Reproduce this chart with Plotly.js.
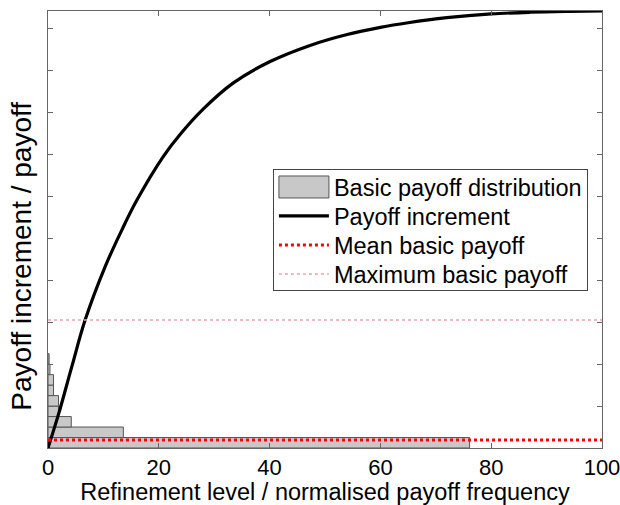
<!DOCTYPE html>
<html>
<head>
<meta charset="utf-8">
<script src="https://cdn.plot.ly/plotly-3.0.1.min.js"></script>
<style>html,body{margin:0;padding:0;background:#fff;}#chart{width:620px;height:505px;}</style>
</head>
<body>
<div id="chart"></div>
<script>
// Histogram of basic payoff (horizontal bars): bin centres on the payoff axis, normalised frequency
const binCentres = [0.125, 0.375, 0.625, 0.875, 1.125, 1.375, 1.625, 1.875, 2.125];
const binFreq = [76.1, 13.6, 4.2, 1.9, 1.9, 1.0, 1.0, 0.35, 0.2];
const binWidth = 0.25;

// Payoff increment curve vs refinement level
const refLevel = [0, 2, 4.3, 6.7, 10.3, 13.3, 16, 20.8, 23.8, 28, 33.4, 40, 47.3, 54, 60, 65, 72, 80, 87, 94, 100];
const payoffInc = [0, 0.85, 1.94, 3.05, 4.32, 5.19, 5.9, 6.95, 7.47, 8.08, 8.7, 9.21, 9.6, 9.86, 10.03, 10.14, 10.26, 10.35, 10.39, 10.41, 10.42];

const meanPayoff = 0.19;
const maxPayoff = 3.05;
const xLimits = [0, 100];
const xTicks = [0, 20, 40, 60, 80, 100];

const traces = [
  {type: 'bar', orientation: 'h', y: binCentres, x: binFreq, width: binWidth,
   marker: {color: '#c8c8c8', line: {color: '#555555', width: 1}},
   name: 'Basic payoff distribution'},
  {type: 'scatter', mode: 'lines', x: refLevel, y: payoffInc,
   line: {color: '#000000', width: 3.2, shape: 'spline', smoothing: 1}, name: 'Payoff increment'},
  {type: 'scatter', mode: 'lines', x: xLimits, y: [meanPayoff, meanPayoff],
   line: {color: '#ff0000', width: 3, dash: 'dot'}, name: 'Mean basic payoff'},
  {type: 'scatter', mode: 'lines', x: xLimits, y: [maxPayoff, maxPayoff],
   line: {color: '#f0a0a8', width: 1.5, dash: 'dot'}, name: 'Maximum basic payoff'}
];

const layout = {
  width: 620, height: 505,
  margin: {l: 48, r: 18, t: 11, b: 57},
  paper_bgcolor: '#ffffff', plot_bgcolor: '#ffffff',
  font: {family: 'Liberation Sans, Arial, sans-serif', color: '#000', size: 22},
  showlegend: true,
  legend: {x: 0.406, y: 0.638, xanchor: 'left', yanchor: 'top',
    bordercolor: '#444', borderwidth: 1, bgcolor: '#fff',
    font: {size: 23.5}, itemwidth: 50, tracegroupgap: 0},
  xaxis: {range: xLimits, tickvals: xTicks, ticklabeloverflow: 'allow',
    ticks: 'inside', ticklen: 5, tickcolor: '#666', showline: true, linecolor: '#666', linewidth: 1,
    mirror: 'ticks', showgrid: false, zeroline: false, tickfont: {size: 22},
    title: {text: 'Refinement level / normalised payoff frequency', font: {size: 23.5}, standoff: 0}},
  yaxis: {range: [0, 10.42], dtick: 1, tick0: 0, showticklabels: false,
    ticks: 'inside', ticklen: 5, tickcolor: '#666', showline: true, linecolor: '#666', linewidth: 1,
    mirror: 'ticks', showgrid: false, zeroline: false},
  annotations: [{text: 'Payoff increment / payoff', textangle: -90, showarrow: false,
    xref: 'paper', yref: 'paper', x: -0.047, y: 0.44, xanchor: 'center', yanchor: 'middle',
    font: {size: 28}}],
  bargap: 0
};

Plotly.newPlot('chart', traces, layout, {staticPlot: true, displayModeBar: false}).then(function (gd) {
  const legend = gd.querySelector('.legend');
  if (!legend) return;
  const items = Array.from(legend.querySelectorAll('.traces'));
  const parse = function (el) {
    const m = /translate\(\s*([-\d.e]+)[ ,]+([-\d.e]+)/.exec(el.getAttribute('transform') || '');
    return m ? [parseFloat(m[1]), parseFloat(m[2])] : [0, 0];
  };
  const pos = items.map(parse);
  const stride = 29, shift = -5;
  items.forEach(function (el, i) {
    el.setAttribute('transform', 'translate(' + pos[i][0] + ',' + (pos[0][1] + shift + i * stride) + ')');
  });
  const bg = legend.querySelector('rect.bg');
  if (bg) bg.setAttribute('height', 121);

  // widen the histogram legend swatch to span the same width as the line swatches
  if (items.length < 2) return;
  const barPath = items[0].querySelector('.legendpoints path');
  const linePath = items[1].querySelector('.legendlines path');
  if (!barPath || !linePath) return;
  const r = linePath.getBoundingClientRect();
  const m = barPath.getScreenCTM().inverse();
  const svg = barPath.ownerSVGElement;
  const p0 = svg.createSVGPoint(); p0.x = r.left; p0.y = 0;
  const p1 = svg.createSVGPoint(); p1.x = r.right; p1.y = 0;
  const a = p0.matrixTransform(m), b = p1.matrixTransform(m);
  const bb = barPath.getBBox();
  const cy = bb.y + bb.height / 2;
  const h = 11;
  barPath.setAttribute('d', 'M' + a.x + ',' + (cy - h) + 'H' + b.x + 'V' + (cy + h) + 'H' + a.x + 'Z');
});
</script>
</body>
</html>
